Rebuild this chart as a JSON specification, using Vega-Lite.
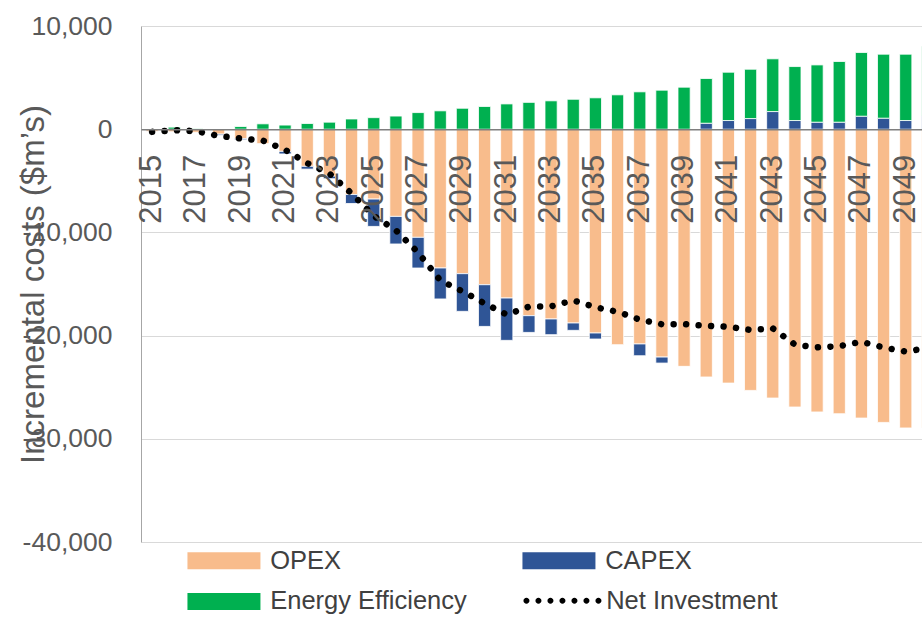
{
  "$schema": "https://vega.github.io/schema/vega-lite/v6.json",
  "width": 798,
  "height": 516,
  "autosize": {"type": "none"},
  "padding": {"left": 141, "top": 26, "right": 0, "bottom": 76},
  "background": "white",
  "config": {
    "view": {"stroke": null},
    "font": "Liberation Sans",
    "axisY": {
      "labelFontSize": 26.5,
      "labelColor": "#595959",
      "labelPadding": 29,
      "ticks": false,
      "domainColor": "#A6A6A6",
      "gridColor": "#D9D9D9",
      "titleFontSize": 33,
      "titleFontWeight": "normal",
      "titleColor": "#595959",
      "titleAngle": -90,
      "titleX": -108,
      "titleY": 258,
      "titleAlign": "center",
      "titleBaseline": "middle"
    }
  },
  "data": {
    "values": [
      {"year": 2015, "OPEX": -200, "CAPEX": 0, "Energy Efficiency": 0, "Net Investment": -260},
      {"year": 2016, "OPEX": -250, "CAPEX": 0, "Energy Efficiency": 200, "Net Investment": -100},
      {"year": 2017, "OPEX": -300, "CAPEX": 0, "Energy Efficiency": 50, "Net Investment": -190},
      {"year": 2018, "OPEX": -480, "CAPEX": -100, "Energy Efficiency": 0, "Net Investment": -650},
      {"year": 2019, "OPEX": -900, "CAPEX": -120, "Energy Efficiency": 260, "Net Investment": -900},
      {"year": 2020, "OPEX": -1400, "CAPEX": 0, "Energy Efficiency": 520, "Net Investment": -1100},
      {"year": 2021, "OPEX": -2150, "CAPEX": -250, "Energy Efficiency": 400, "Net Investment": -2000},
      {"year": 2022, "OPEX": -3600, "CAPEX": -270, "Energy Efficiency": 550, "Net Investment": -3290},
      {"year": 2023, "OPEX": -4550, "CAPEX": -250, "Energy Efficiency": 680, "Net Investment": -4300},
      {"year": 2024, "OPEX": -6330, "CAPEX": -870, "Energy Efficiency": 990, "Net Investment": -6220},
      {"year": 2025, "OPEX": -6770, "CAPEX": -2650, "Energy Efficiency": 1120, "Net Investment": -8400},
      {"year": 2026, "OPEX": -8450, "CAPEX": -2670, "Energy Efficiency": 1270, "Net Investment": -9800},
      {"year": 2027, "OPEX": -10480, "CAPEX": -2970, "Energy Efficiency": 1610, "Net Investment": -11950},
      {"year": 2028, "OPEX": -13450, "CAPEX": -3000, "Energy Efficiency": 1780, "Net Investment": -14650},
      {"year": 2029, "OPEX": -14000, "CAPEX": -3650, "Energy Efficiency": 2030, "Net Investment": -15700},
      {"year": 2030, "OPEX": -15070, "CAPEX": -4040, "Energy Efficiency": 2200, "Net Investment": -16880},
      {"year": 2031, "OPEX": -16360, "CAPEX": -4100, "Energy Efficiency": 2450, "Net Investment": -17970},
      {"year": 2032, "OPEX": -18070, "CAPEX": -1620, "Energy Efficiency": 2600, "Net Investment": -17200},
      {"year": 2033, "OPEX": -18390, "CAPEX": -1520, "Energy Efficiency": 2750, "Net Investment": -17170},
      {"year": 2034, "OPEX": -18780, "CAPEX": -710, "Energy Efficiency": 2900, "Net Investment": -16590},
      {"year": 2035, "OPEX": -19750, "CAPEX": -580, "Energy Efficiency": 3040, "Net Investment": -17250},
      {"year": 2036, "OPEX": -20880, "CAPEX": 0, "Energy Efficiency": 3330, "Net Investment": -17700},
      {"year": 2037, "OPEX": -20810, "CAPEX": -1140, "Energy Efficiency": 3620, "Net Investment": -18450},
      {"year": 2038, "OPEX": -22080, "CAPEX": -580, "Energy Efficiency": 3780, "Net Investment": -18900},
      {"year": 2039, "OPEX": -22980, "CAPEX": 0, "Energy Efficiency": 4070, "Net Investment": -18880},
      {"year": 2040, "OPEX": -24010, "CAPEX": 580, "Energy Efficiency": 4330, "Net Investment": -19050},
      {"year": 2041, "OPEX": -24600, "CAPEX": 840, "Energy Efficiency": 4680, "Net Investment": -19150},
      {"year": 2042, "OPEX": -25310, "CAPEX": 1030, "Energy Efficiency": 4780, "Net Investment": -19450},
      {"year": 2043, "OPEX": -26050, "CAPEX": 1710, "Energy Efficiency": 5110, "Net Investment": -19300},
      {"year": 2044, "OPEX": -26920, "CAPEX": 840, "Energy Efficiency": 5230, "Net Investment": -20870},
      {"year": 2045, "OPEX": -27400, "CAPEX": 680, "Energy Efficiency": 5550, "Net Investment": -21140},
      {"year": 2046, "OPEX": -27570, "CAPEX": 680, "Energy Efficiency": 5880, "Net Investment": -21030},
      {"year": 2047, "OPEX": -27990, "CAPEX": 1260, "Energy Efficiency": 6170, "Net Investment": -20600},
      {"year": 2048, "OPEX": -28410, "CAPEX": 1070, "Energy Efficiency": 6200, "Net Investment": -21150},
      {"year": 2049, "OPEX": -28950, "CAPEX": 840, "Energy Efficiency": 6430, "Net Investment": -21550},
      {"year": 2050, "OPEX": -28930, "CAPEX": 1290, "Energy Efficiency": 6720, "Net Investment": -21200}
    ]
  },
  "encoding": {
    "x": {
      "field": "year",
      "type": "ordinal",
      "scale": {"paddingInner": 0.45, "paddingOuter": 0.225},
      "axis": {
        "orient": "bottom",
        "offset": -412.7,
        "title": null,
        "grid": false,
        "ticks": false,
        "domainColor": "#7F7F7F",
        "domainWidth": 1.5,
        "labelAngle": -90,
        "labelPadding": 25,
        "labelFontSize": 31,
        "labelColor": "#595959",
        "labelOverlap": false,
        "values": [2015, 2017, 2019, 2021, 2023, 2025, 2027, 2029, 2031, 2033, 2035, 2037, 2039, 2041, 2043, 2045, 2047, 2049],
        "zindex": 1
      }
    }
  },
  "layer": [
    {
      "transform": [{"fold": ["OPEX", "CAPEX", "Energy Efficiency"], "as": ["series", "value"]}],
      "mark": {"type": "bar", "stroke": "white", "strokeWidth": 0.8},
      "encoding": {
        "y": {
          "field": "value",
          "type": "quantitative",
          "stack": "zero",
          "scale": {"domain": [-40000, 10000], "nice": false},
          "axis": {
            "title": "Incremental costs ($m’s)",
            "values": [-40000, -30000, -20000, -10000, 0, 10000],
            "labelExpr": "replace(format(datum.value, ','), '\u2212', '-')"
          }
        },
        "color": {
          "field": "series",
          "type": "nominal",
          "scale": {
            "domain": ["OPEX", "CAPEX", "Energy Efficiency"],
            "range": ["#F8BC8C", "#2F5596", "#00B050"]
          },
          "legend": {
            "orient": "none",
            "direction": "horizontal",
            "legendX": 45.7,
            "legendY": 521.7,
            "columns": 2,
            "title": null,
            "padding": 0,
            "symbolType": "M-1,-0.708H5.083V0.708H-1Z",
            "symbolSize": 576,
            "symbolStrokeWidth": 0,
            "symbolOpacity": 1,
            "labelFontSize": 25.5,
            "labelColor": "#404040",
            "labelOffset": 58,
            "labelLimit": 0,
            "columnPadding": 54,
            "rowPadding": 14
          }
        },
        "order": {"field": "value", "type": "quantitative", "sort": "ascending"}
      }
    },
    {
      "mark": {"type": "line", "color": "black", "strokeWidth": 6.5, "strokeCap": "round"},
      "encoding": {
        "y": {
          "field": "Net Investment",
          "type": "quantitative",
          "axis": {
            "title": "Incremental costs ($m’s)",
            "values": [-40000, -30000, -20000, -10000, 0, 10000],
            "labelExpr": "replace(format(datum.value, ','), '\u2212', '-')"
          }
        },
        "strokeDash": {
          "datum": "Net Investment",
          "type": "nominal",
          "scale": {"domain": ["Net Investment"], "range": [[0.01, 12.5]]},
          "legend": {
            "orient": "none",
            "legendX": 381.7,
            "legendY": 562,
            "title": null,
            "padding": 0,
            "symbolType": "M-1,0a0.25,0.25 0 1,0 0.5,0a0.25,0.25 0 1,0 -0.5,0M0,0a0.25,0.25 0 1,0 0.5,0a0.25,0.25 0 1,0 -0.5,0M1,0a0.25,0.25 0 1,0 0.5,0a0.25,0.25 0 1,0 -0.5,0M2,0a0.25,0.25 0 1,0 0.5,0a0.25,0.25 0 1,0 -0.5,0M3,0a0.25,0.25 0 1,0 0.5,0a0.25,0.25 0 1,0 -0.5,0M4,0a0.25,0.25 0 1,0 0.5,0a0.25,0.25 0 1,0 -0.5,0M5,0a0.25,0.25 0 1,0 0.5,0a0.25,0.25 0 1,0 -0.5,0",
            "symbolSize": 576,
            "symbolFillColor": "black",
            "symbolStrokeWidth": 0,
            "symbolOpacity": 1,
            "labelFontSize": 25.5,
            "labelColor": "#404040",
            "labelOffset": 58,
            "labelLimit": 0
          }
        }
      }
    }
  ]
}
